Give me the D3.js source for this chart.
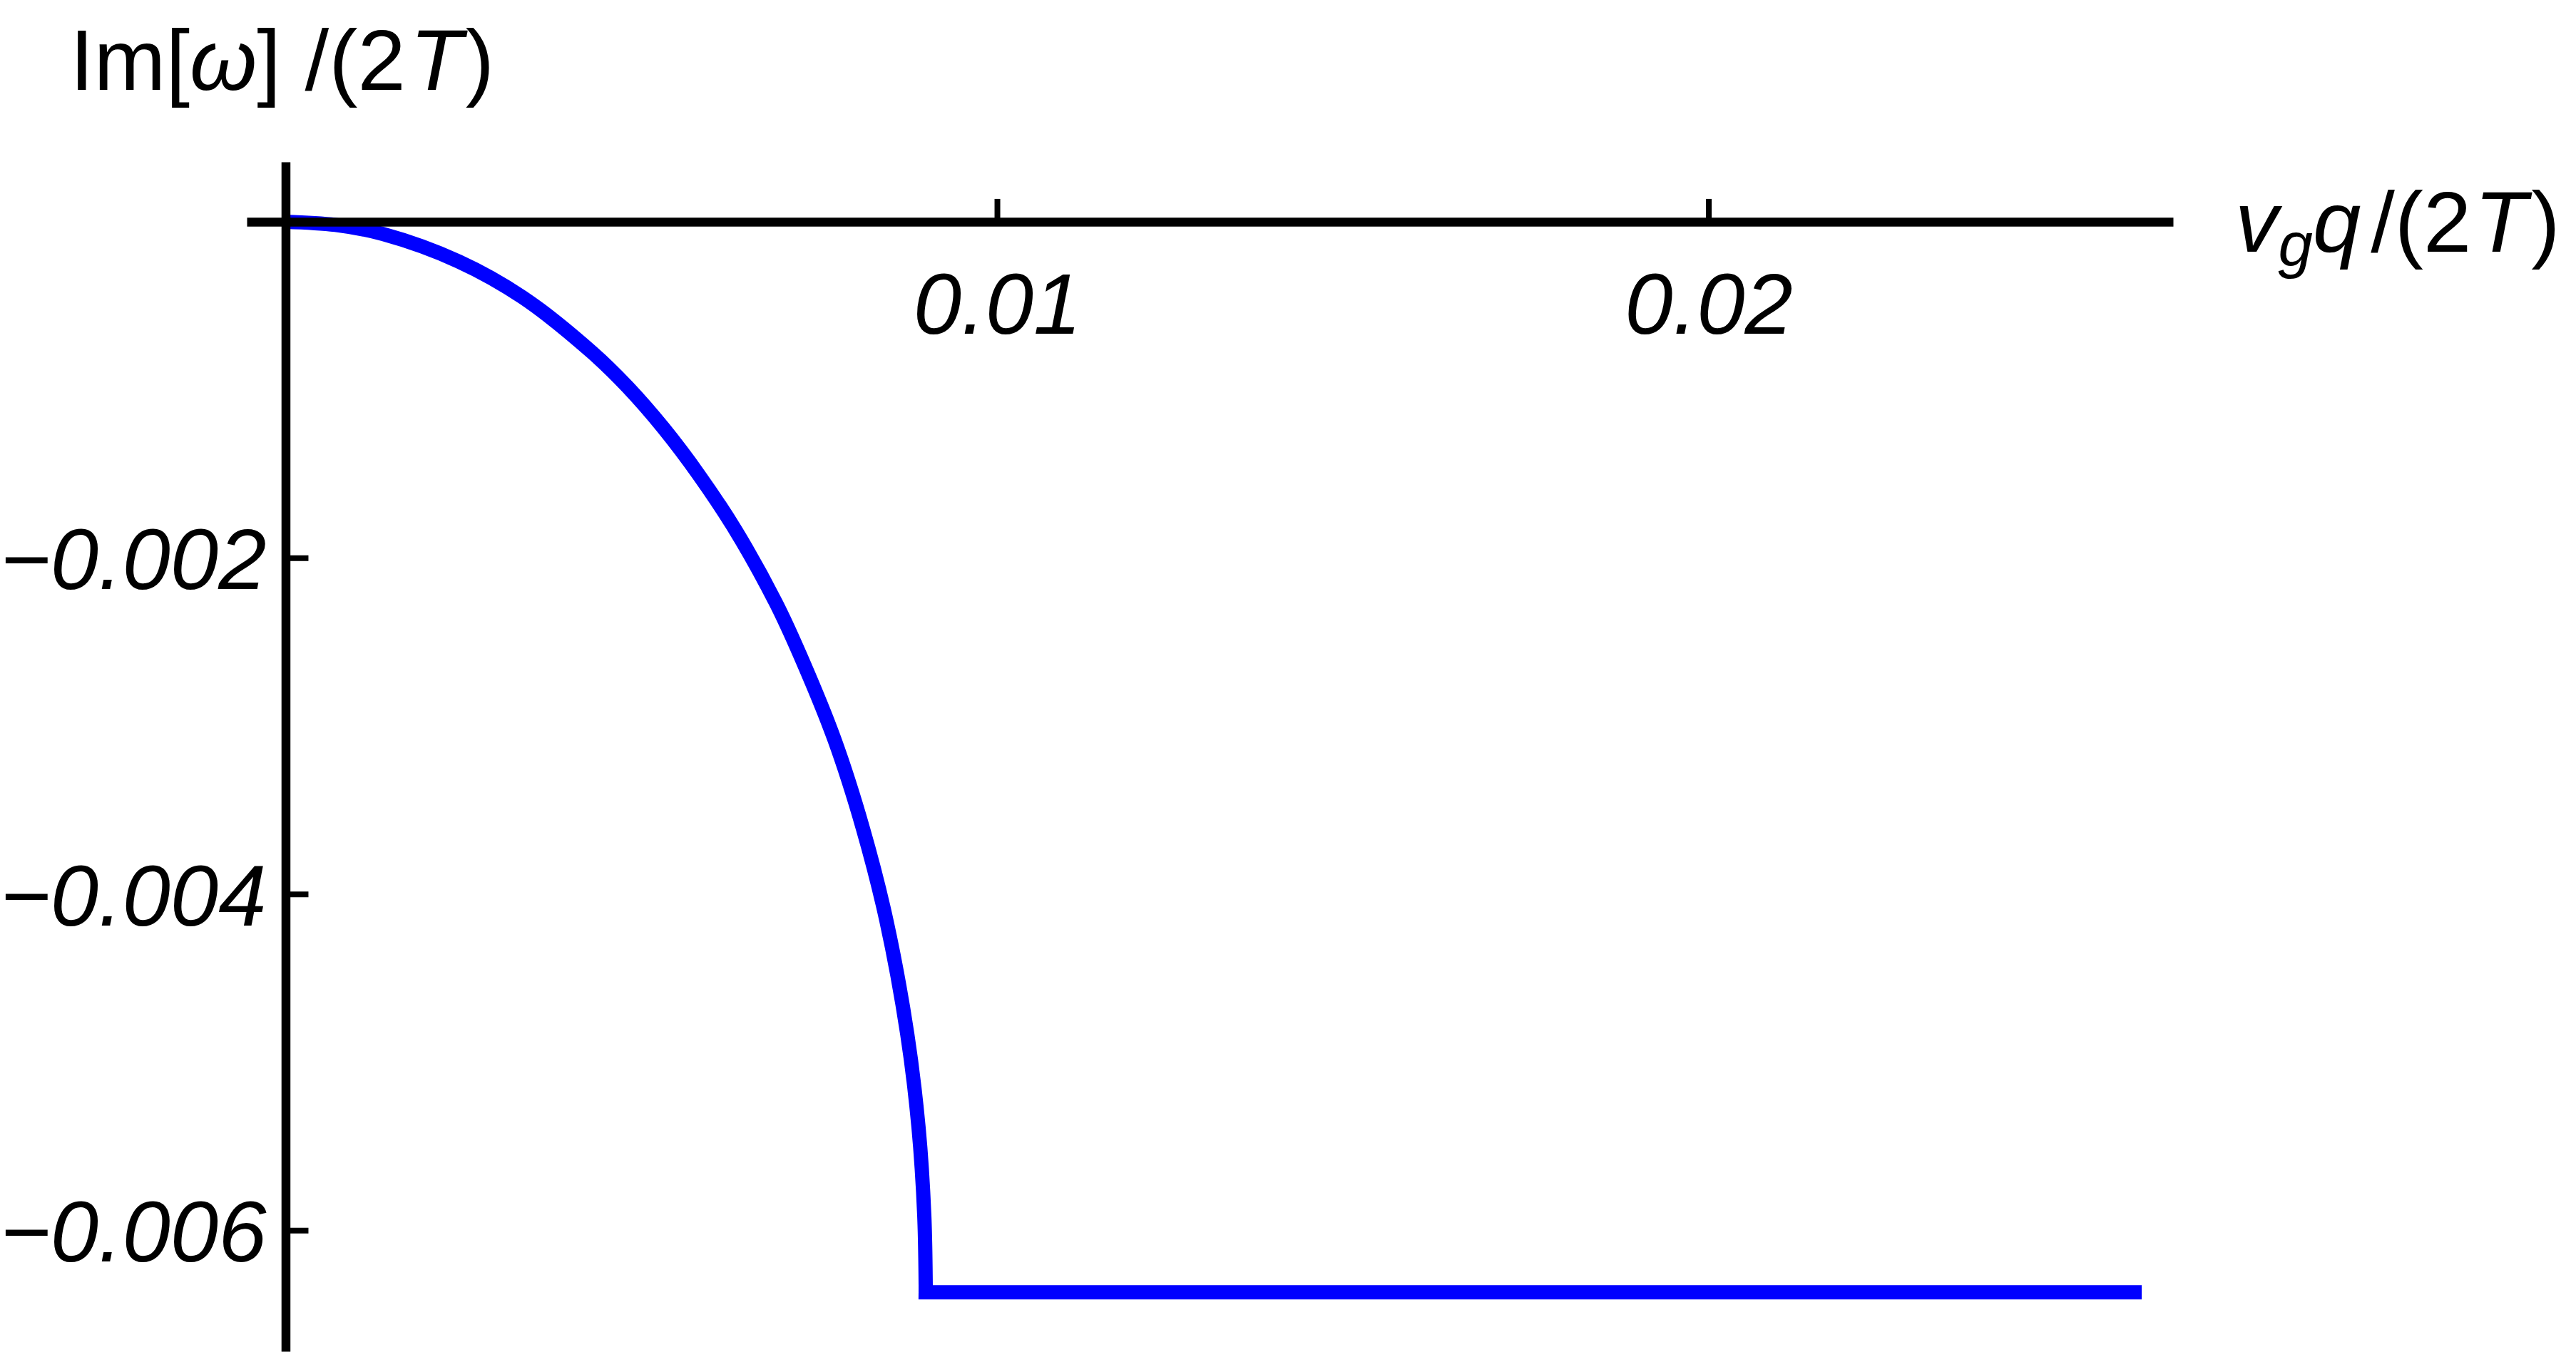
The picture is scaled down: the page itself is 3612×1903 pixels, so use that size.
<!DOCTYPE html>
<html>
<head>
<meta charset="utf-8">
<script src="https://cdn.jsdelivr.net/npm/d3@7"></script>
<style>
  html, body { margin: 0; padding: 0; background: #ffffff; }
  svg { display: block; }
  text { font-family: "Liberation Sans", Arial, Helvetica, sans-serif; fill: #000; }
</style>
</head>
<body>
<script>
// ---- data ----
// damped branch (smooth part)
const qValues = [0, 0.0007, 0.001368, 0.002431, 0.003333, 0.004306, 0.004807, 0.005308, 0.005810,
                 0.006328, 0.006892, 0.007233, 0.007714, 0.008115, 0.008446, 0.008737, 0.008897,
                 0.008977, 0.008997, 0.008997];
const imOmega = [0, -0.000019, -0.000073, -0.000236, -0.000450, -0.000777, -0.000983, -0.001226, -0.001507,
                 -0.001838, -0.002268, -0.002580, -0.003080, -0.003610, -0.004160, -0.004830, -0.005390,
                 -0.005910, -0.006320, -0.006369];
// flat branch
const qFlat = [0.008997, 0.02609];
const imFlat = [-0.006369, -0.006369];

const xTickValues = [0.01, 0.02];
const xTickLabels = ["0.01", "0.02"];
const yTickValues = [-0.002, -0.004, -0.006];
const yTickLabels = ["\u22120.002", "\u22120.004", "\u22120.006"];
const xDomain = [-0.000546, 0.02653];
const yDomain = [0.000356, -0.00672];

// ---- layout ----
const W = 3612, H = 1903;
const FS = 121;

const svg = d3.select("body").append("svg")
  .attr("width", W).attr("height", H)
  .attr("viewBox", `0 0 ${W} ${H}`);
svg.append("rect").attr("width", W).attr("height", H).attr("fill", "#fff");

const x = d3.scaleLinear().domain(xDomain).range([346, 3047]);
const y = d3.scaleLinear().domain(yDomain).range([227, 1895]);

// ---- curve ----
const pts = qValues.map((q, i) => [q, imOmega[i]]);
const flatPts = qFlat.map((q, i) => [q, imFlat[i]]);
const smooth = d3.line().x(d => x(d[0])).y(d => y(d[1])).curve(d3.curveCatmullRom.alpha(0.5));
const straight = d3.line().x(d => x(d[0])).y(d => y(d[1])).curve(d3.curveLinear);
const dPath = smooth(pts) + straight(flatPts).replace(/^M/, "L");
svg.append("path")
  .attr("d", dPath)
  .attr("fill", "none")
  .attr("stroke", "#0000ff")
  .attr("stroke-width", 20)
  .attr("stroke-linejoin", "miter")
  .attr("stroke-linecap", "butt");

// ---- axes ----
const xAxis = d3.axisBottom(x)
  .tickValues(xTickValues)
  .tickFormat((d, i) => xTickLabels[i])
  .tickSizeInner(-32).tickSizeOuter(0).tickPadding(71);
const gx = svg.append("g").attr("transform", `translate(0,${y(0)})`).call(xAxis);

const yAxis = d3.axisLeft(y)
  .tickValues(yTickValues)
  .tickFormat((d, i) => yTickLabels[i])
  .tickSizeInner(-32).tickSizeOuter(0).tickPadding(27);
const gy = svg.append("g").attr("transform", `translate(${x(0)},0)`).call(yAxis);

[gx, gy].forEach(g => {
  g.select(".domain").attr("stroke", "#000").attr("stroke-width", 12.5);
  g.selectAll(".tick line").attr("stroke", "#000").attr("stroke-width", 8);
  g.selectAll(".tick text")
    .attr("fill", "#000")
    .style("font-family", '"Liberation Sans", Arial, sans-serif')
    .style("font-style", "italic")
    .style("font-size", FS + "px");
});
gy.selectAll(".tick text").attr("dy", "0.36em");

// ---- axis titles ----
const yt = svg.append("text")
  .attr("x", 98).attr("y", 126)
  .style("font-size", FS + "px");
yt.append("tspan").text("Im[");
yt.append("tspan").style("font-style", "italic").text("\u03c9");
yt.append("tspan").text("] /(2");
yt.append("tspan").attr("dx", 6).style("font-style", "italic").text("T");
yt.append("tspan").attr("dx", 4).text(")");

const xt = svg.append("text")
  .attr("x", 3134).attr("y", 353)
  .style("font-size", FS + "px");
xt.append("tspan").style("font-style", "italic").text("v");
xt.append("tspan").style("font-style", "italic").style("font-size", "87px").attr("dy", 20).text("g");
xt.append("tspan").style("font-style", "italic").attr("dy", -20).text("q");
xt.append("tspan").attr("dx", 14).text("/(2");
xt.append("tspan").attr("dx", 4).style("font-style", "italic").text("T");
xt.append("tspan").attr("dx", 6).text(")");
</script>
</body>
</html>
